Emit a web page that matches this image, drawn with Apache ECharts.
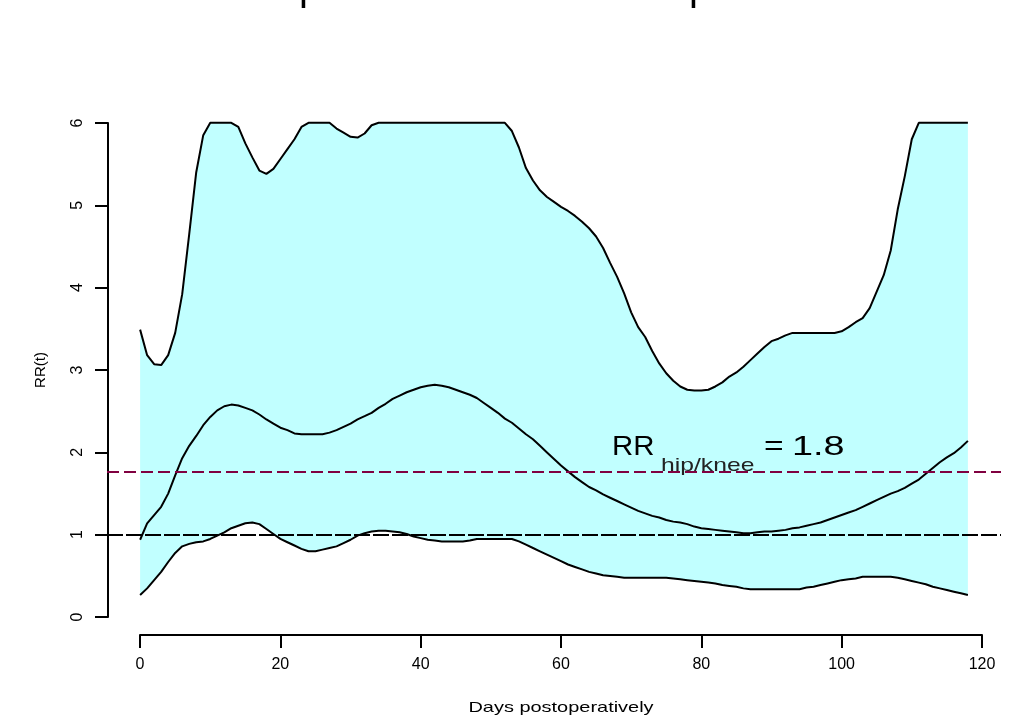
<!DOCTYPE html>
<html>
<head>
<meta charset="utf-8">
<script src="https://cdn.jsdelivr.net/npm/echarts@6/dist/echarts.min.js"></script>
<style>
html, body { margin: 0; padding: 0; background: #fff; }
#chart { width: 1029px; height: 716px; }
</style>
</head>
<body>
<div id="chart"></div>
<script>
// 天数 0..118
var days = [];
for (var d = 0; d <= 118; d++) days.push(d);

// 上置信限 (截断在 6)
var upper = [3.49,3.18,3.07,3.06,3.18,3.45,3.92,4.65,5.40,5.85,
	6.0,6.0,6.0,6.0,5.95,5.75,5.58,5.42,5.38,5.44,
	5.56,5.68,5.80,5.95,6.0,6.0,6.0,6.0,5.93,5.88,
	5.83,5.82,5.87,5.97,6.0,6.0,6.0,6.0,6.0,6.0,
	6.0,6.0,6.0,6.0,6.0,6.0,6.0,6.0,6.0,6.0,
	6.0,6.0,6.0,5.90,5.70,5.45,5.30,5.18,5.10,5.04,
	4.98,4.93,4.87,4.80,4.72,4.62,4.48,4.30,4.13,3.93,
	3.70,3.52,3.40,3.23,3.08,2.96,2.87,2.80,2.76,2.75,
	2.75,2.76,2.80,2.85,2.92,2.97,3.04,3.12,3.20,3.28,
	3.35,3.38,3.42,3.45,3.45,3.45,3.45,3.45,3.45,3.45,
	3.47,3.52,3.58,3.63,3.75,3.95,4.15,4.45,4.95,5.35,
	5.80,6.0,6.0,6.0,6.0,6.0,6.0,6.0,6.0];

// 估计值 RR(t)
var estimate = [0.94,1.14,1.24,1.34,1.50,1.72,1.93,2.08,2.20,2.33,
	2.43,2.51,2.56,2.58,2.57,2.54,2.51,2.46,2.40,2.35,
	2.30,2.27,2.23,2.22,2.22,2.22,2.22,2.24,2.27,2.31,
	2.35,2.40,2.44,2.48,2.54,2.59,2.65,2.69,2.73,2.76,
	2.79,2.81,2.82,2.81,2.79,2.76,2.73,2.70,2.66,2.60,
	2.54,2.48,2.41,2.36,2.29,2.22,2.16,2.08,2.00,1.92,
	1.84,1.77,1.70,1.64,1.58,1.54,1.49,1.45,1.41,1.37,
	1.33,1.29,1.26,1.23,1.21,1.18,1.16,1.15,1.13,1.10,
	1.08,1.07,1.06,1.05,1.04,1.03,1.02,1.02,1.03,1.04,
	1.04,1.05,1.06,1.08,1.09,1.11,1.13,1.15,1.18,1.21,
	1.24,1.27,1.30,1.34,1.38,1.42,1.46,1.50,1.53,1.57,
	1.62,1.67,1.74,1.81,1.88,1.94,1.99,2.06,2.14];

// 下置信限
var lower = [0.27,0.35,0.45,0.55,0.67,0.78,0.86,0.89,0.91,0.92,
	0.95,0.99,1.03,1.08,1.11,1.14,1.15,1.13,1.07,1.01,
	0.95,0.91,0.87,0.83,0.80,0.80,0.82,0.84,0.86,0.90,
	0.94,0.99,1.02,1.04,1.05,1.05,1.04,1.03,1.01,0.98,
	0.96,0.94,0.93,0.92,0.92,0.92,0.92,0.93,0.95,0.95,
	0.95,0.95,0.95,0.95,0.92,0.88,0.84,0.80,0.76,0.72,
	0.68,0.64,0.61,0.58,0.55,0.53,0.51,0.50,0.49,0.48,
	0.48,0.48,0.48,0.48,0.48,0.48,0.47,0.46,0.45,0.44,
	0.43,0.42,0.41,0.39,0.38,0.37,0.35,0.34,0.34,0.34,
	0.34,0.34,0.34,0.34,0.34,0.36,0.37,0.39,0.41,0.43,
	0.45,0.46,0.47,0.49,0.49,0.49,0.49,0.49,0.48,0.46,
	0.44,0.42,0.40,0.37,0.35,0.33,0.31,0.29,0.27];

var xTicks = [0, 20, 40, 60, 80, 100, 120];
var yTicks = [0, 1, 2, 3, 4, 5, 6];
var nullLine = 1;      // RR = 1
var overallRR = 1.77;  // RR_hip/knee = 1.8

function pairs(vals) {
	var out = [];
	for (var i = 0; i < days.length; i++) out.push([days[i], vals[i]]);
	return out;
}

// 置信带: 上限正向 + 下限反向 拼成一个多边形
function renderBand(params, api) {
	var pts = [];
	for (var i = 0; i < days.length; i++) pts.push(api.coord([days[i], upper[i]]));
	for (var j = days.length - 1; j >= 0; j--) pts.push(api.coord([days[j], lower[j]]));
	return {
		type: 'polygon',
		shape: { points: pts },
		style: { fill: '#c1ffff', stroke: null }
	};
}

var FONT = '"Liberation Sans", Arial, sans-serif';
var curve = { color: '#000', width: 2 };

var myChart = echarts.init(document.getElementById('chart'), null, { renderer: 'canvas' });
var option = {
	animation: false,
	backgroundColor: '#fff',
	grid: [
		// R 绘图区域 (数据范围外扩 4%)
		{ left: 107, right: 28, top: 103, bottom: 79 },
		// 只用来画坐标轴
		{ left: 140, right: 47, top: 123, bottom: 99 }
	],
	xAxis: [{
		gridIndex: 0, type: 'value', min: -4.72, max: 122.72, show: false
	}, {
		gridIndex: 1, type: 'value', min: 0, max: 120, interval: 20,
		offset: 18,
		axisLine: { show: true, onZero: false, lineStyle: { color: '#000', width: 2 } },
		axisTick: { show: true, length: 13, lineStyle: { color: '#000', width: 2 } },
		splitLine: { show: false },
		axisLabel: { color: '#000', fontSize: 16, fontFamily: FONT, margin: 22,
			formatter: function (v) { return xTicks.indexOf(v) >= 0 ? String(v) : ''; } }
	}],
	yAxis: [{
		gridIndex: 0, type: 'value', min: -0.24, max: 6.24, show: false
	}, {
		gridIndex: 1, type: 'value', min: 0, max: 6, interval: 1,
		offset: 32,
		axisLine: { show: true, onZero: false, lineStyle: { color: '#000', width: 2 } },
		axisTick: { show: true, length: 13, lineStyle: { color: '#000', width: 2 } },
		splitLine: { show: false },
		axisLabel: { color: '#000', fontSize: 16, fontFamily: FONT, rotate: 90, margin: 22,
			formatter: function (v) { return yTicks.indexOf(v) >= 0 ? String(v) : ''; } },
		name: 'RR(t)', nameLocation: 'middle', nameGap: 60, nameRotate: 90,
		nameTextStyle: { color: '#000', fontSize: 15, fontFamily: FONT }
	}],
	series: [
		{
			type: 'custom', xAxisIndex: 0, yAxisIndex: 0, data: [0], clip: true,
			renderItem: renderBand, silent: true, z: 1
		},
		{
			type: 'line', xAxisIndex: 0, yAxisIndex: 0, data: [], symbol: 'none', z: 2,
			markLine: {
				symbol: ['none', 'none'], silent: true, animation: false,
				label: { show: false },
				data: [
					{ yAxis: nullLine, lineStyle: { color: '#000', width: 2, type: [16, 3] } },
					{ yAxis: overallRR, lineStyle: { color: '#800040', width: 2, type: [12, 5] } }
				]
			}
		},
		{ type: 'line', xAxisIndex: 0, yAxisIndex: 0, data: pairs(upper), symbol: 'none', lineStyle: curve, z: 3 },
		{ type: 'line', xAxisIndex: 0, yAxisIndex: 0, data: pairs(estimate), symbol: 'none', lineStyle: curve, z: 3 },
		{ type: 'line', xAxisIndex: 0, yAxisIndex: 0, data: pairs(lower), symbol: 'none', lineStyle: curve, z: 3 }
	],
	graphic: [
		// 被裁掉的标题 (只剩下降部)
		{ type: 'text', left: 299, top: -31, style: { text: 'p', font: '40px ' + FONT, fill: '#000' } },
		{ type: 'text', left: 689, top: -31, style: { text: 'p', font: '40px ' + FONT, fill: '#000' } },
		// x 轴标题
		{ type: 'text', x: 561, y: 708, scaleX: 1.33, z: 100,
			style: { text: 'Days postoperatively', font: '15px ' + FONT, fill: '#000',
				textAlign: 'center', textVerticalAlign: 'middle' } },
		// RR_hip/knee = 1.8
		{ type: 'text', x: 612, y: 461, scaleX: 1.05, z: 100,
			style: { text: 'RR', font: '28px ' + FONT, fill: '#000', textVerticalAlign: 'bottom' } },
		{ type: 'text', x: 661, y: 475, scaleX: 1.3, z: 100,
			style: { text: 'hip/knee', font: '19px ' + FONT, fill: '#222', textVerticalAlign: 'bottom' } },
		{ type: 'text', x: 764, y: 461, scaleX: 1.2, z: 100,
			style: { text: '=', font: '28px ' + FONT, fill: '#000', textVerticalAlign: 'bottom' } },
		{ type: 'text', x: 792, y: 461, scaleX: 1.35, z: 100,
			style: { text: '1.8', font: '28px ' + FONT, fill: '#000', textVerticalAlign: 'bottom' } }
	]
};
myChart.setOption(option);
</script>
</body>
</html>
